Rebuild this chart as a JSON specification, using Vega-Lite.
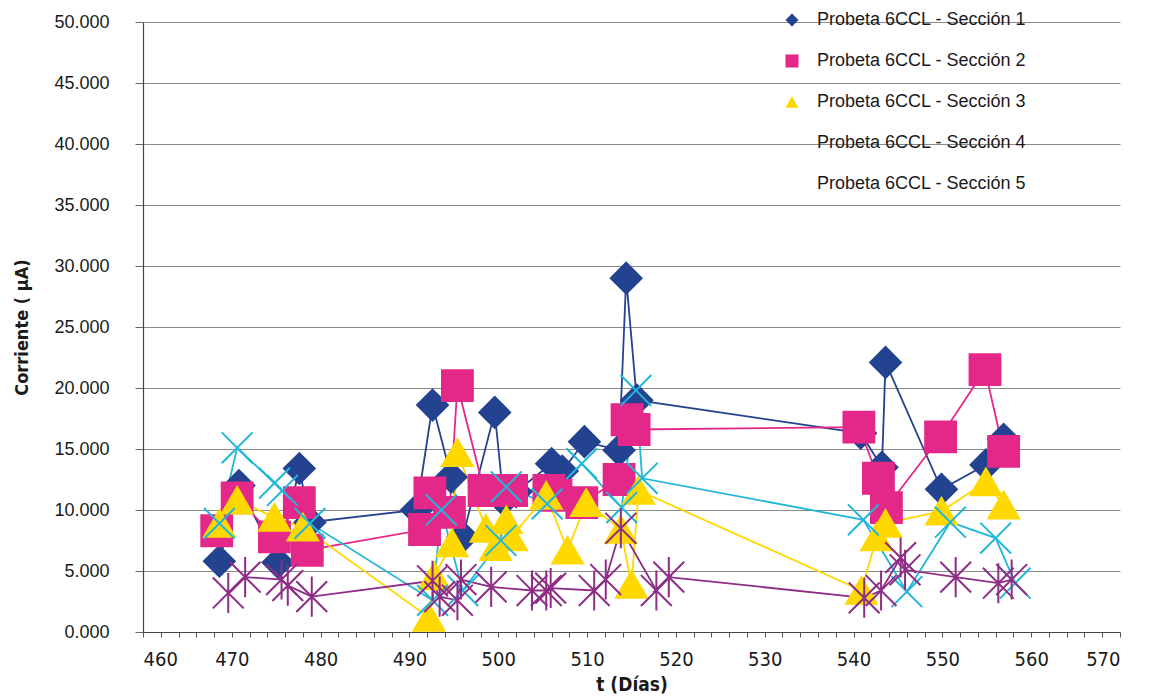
{
  "$schema": "https://vega.github.io/schema/vega-lite/v6.json",
  "width": 977,
  "height": 610,
  "autosize": "none",
  "padding": {"left": 143, "top": 22, "right": 36, "bottom": 64},
  "background": "white",
  "config": {"view": {"stroke": null}, "font": "Liberation Sans"},
  "datasets": {
    "d": [
      {"s": "Probeta 6CCL - Sección 1", "t": 468.6, "c": 5.8},
      {"s": "Probeta 6CCL - Sección 1", "t": 470.8, "c": 12.0},
      {"s": "Probeta 6CCL - Sección 1", "t": 475.2, "c": 5.7},
      {"s": "Probeta 6CCL - Sección 1", "t": 477.6, "c": 13.4},
      {"s": "Probeta 6CCL - Sección 1", "t": 478.8, "c": 9.0},
      {"s": "Probeta 6CCL - Sección 1", "t": 490.8, "c": 10.0},
      {"s": "Probeta 6CCL - Sección 1", "t": 492.6, "c": 18.6},
      {"s": "Probeta 6CCL - Sección 1", "t": 494.7, "c": 12.7},
      {"s": "Probeta 6CCL - Sección 1", "t": 496.0, "c": 7.8},
      {"s": "Probeta 6CCL - Sección 1", "t": 499.6, "c": 18.0},
      {"s": "Probeta 6CCL - Sección 1", "t": 500.6, "c": 10.8},
      {"s": "Probeta 6CCL - Sección 1", "t": 502.0, "c": 11.5},
      {"s": "Probeta 6CCL - Sección 1", "t": 506.0, "c": 13.8},
      {"s": "Probeta 6CCL - Sección 1", "t": 507.2, "c": 13.2},
      {"s": "Probeta 6CCL - Sección 1", "t": 509.7, "c": 15.6},
      {"s": "Probeta 6CCL - Sección 1", "t": 513.6, "c": 14.9},
      {"s": "Probeta 6CCL - Sección 1", "t": 514.4, "c": 29.0},
      {"s": "Probeta 6CCL - Sección 1", "t": 515.6, "c": 19.0},
      {"s": "Probeta 6CCL - Sección 1", "t": 540.8, "c": 16.3},
      {"s": "Probeta 6CCL - Sección 1", "t": 543.2, "c": 13.5},
      {"s": "Probeta 6CCL - Sección 1", "t": 543.6, "c": 22.1},
      {"s": "Probeta 6CCL - Sección 1", "t": 549.9, "c": 11.7},
      {"s": "Probeta 6CCL - Sección 1", "t": 554.9, "c": 13.7},
      {"s": "Probeta 6CCL - Sección 1", "t": 556.9, "c": 15.8},

      {"s": "Probeta 6CCL - Sección 2", "t": 468.3, "c": 8.3},
      {"s": "Probeta 6CCL - Sección 2", "t": 470.6, "c": 11.0},
      {"s": "Probeta 6CCL - Sección 2", "t": 474.8, "c": 7.8},
      {"s": "Probeta 6CCL - Sección 2", "t": 477.6, "c": 10.6},
      {"s": "Probeta 6CCL - Sección 2", "t": 478.5, "c": 6.7},
      {"s": "Probeta 6CCL - Sección 2", "t": 491.7, "c": 8.4},
      {"s": "Probeta 6CCL - Sección 2", "t": 492.3, "c": 11.4},
      {"s": "Probeta 6CCL - Sección 2", "t": 494.5, "c": 9.8},
      {"s": "Probeta 6CCL - Sección 2", "t": 495.4, "c": 20.2},
      {"s": "Probeta 6CCL - Sección 2", "t": 498.4, "c": 11.6},
      {"s": "Probeta 6CCL - Sección 2", "t": 501.5, "c": 11.6},
      {"s": "Probeta 6CCL - Sección 2", "t": 505.7, "c": 11.6},
      {"s": "Probeta 6CCL - Sección 2", "t": 506.5, "c": 11.2},
      {"s": "Probeta 6CCL - Sección 2", "t": 509.4, "c": 10.6},
      {"s": "Probeta 6CCL - Sección 2", "t": 513.6, "c": 12.5},
      {"s": "Probeta 6CCL - Sección 2", "t": 514.5, "c": 17.4},
      {"s": "Probeta 6CCL - Sección 2", "t": 515.3, "c": 16.6},
      {"s": "Probeta 6CCL - Sección 2", "t": 540.6, "c": 16.8},
      {"s": "Probeta 6CCL - Sección 2", "t": 542.8, "c": 12.6},
      {"s": "Probeta 6CCL - Sección 2", "t": 543.7, "c": 10.2},
      {"s": "Probeta 6CCL - Sección 2", "t": 549.8, "c": 16.0},
      {"s": "Probeta 6CCL - Sección 2", "t": 554.8, "c": 21.5},
      {"s": "Probeta 6CCL - Sección 2", "t": 556.9, "c": 14.8},

      {"s": "Probeta 6CCL - Sección 3", "t": 468.6, "c": 8.9},
      {"s": "Probeta 6CCL - Sección 3", "t": 470.6, "c": 10.8},
      {"s": "Probeta 6CCL - Sección 3", "t": 474.8, "c": 9.4},
      {"s": "Probeta 6CCL - Sección 3", "t": 478.0, "c": 8.6},
      {"s": "Probeta 6CCL - Sección 3", "t": 492.2, "c": 1.2},
      {"s": "Probeta 6CCL - Sección 3", "t": 492.8, "c": 4.6},
      {"s": "Probeta 6CCL - Sección 3", "t": 494.8, "c": 7.3},
      {"s": "Probeta 6CCL - Sección 3", "t": 495.4, "c": 14.7},
      {"s": "Probeta 6CCL - Sección 3", "t": 498.6, "c": 8.5},
      {"s": "Probeta 6CCL - Sección 3", "t": 499.7, "c": 7.0},
      {"s": "Probeta 6CCL - Sección 3", "t": 500.9, "c": 9.2},
      {"s": "Probeta 6CCL - Sección 3", "t": 501.5, "c": 7.8},
      {"s": "Probeta 6CCL - Sección 3", "t": 505.4, "c": 11.2},
      {"s": "Probeta 6CCL - Sección 3", "t": 507.8, "c": 6.7},
      {"s": "Probeta 6CCL - Sección 3", "t": 509.9, "c": 10.6},
      {"s": "Probeta 6CCL - Sección 3", "t": 513.8, "c": 8.4},
      {"s": "Probeta 6CCL - Sección 3", "t": 515.0, "c": 3.9},
      {"s": "Probeta 6CCL - Sección 3", "t": 515.8, "c": 11.6},
      {"s": "Probeta 6CCL - Sección 3", "t": 540.9, "c": 3.4},
      {"s": "Probeta 6CCL - Sección 3", "t": 542.6, "c": 7.8},
      {"s": "Probeta 6CCL - Sección 3", "t": 543.6, "c": 8.9},
      {"s": "Probeta 6CCL - Sección 3", "t": 549.9, "c": 9.9},
      {"s": "Probeta 6CCL - Sección 3", "t": 554.9, "c": 12.3},
      {"s": "Probeta 6CCL - Sección 3", "t": 556.9, "c": 10.4},

      {"s": "Probeta 6CCL - Sección 4", "t": 468.6, "c": 8.9},
      {"s": "Probeta 6CCL - Sección 4", "t": 470.6, "c": 15.1},
      {"s": "Probeta 6CCL - Sección 4", "t": 474.8, "c": 12.2},
      {"s": "Probeta 6CCL - Sección 4", "t": 475.7, "c": 11.6},
      {"s": "Probeta 6CCL - Sección 4", "t": 478.8, "c": 8.9},
      {"s": "Probeta 6CCL - Sección 4", "t": 492.6, "c": 2.6},
      {"s": "Probeta 6CCL - Sección 4", "t": 493.6, "c": 10.0},
      {"s": "Probeta 6CCL - Sección 4", "t": 496.0, "c": 3.4},
      {"s": "Probeta 6CCL - Sección 4", "t": 500.3, "c": 7.5},
      {"s": "Probeta 6CCL - Sección 4", "t": 500.9, "c": 11.9},
      {"s": "Probeta 6CCL - Sección 4", "t": 505.5, "c": 10.5},
      {"s": "Probeta 6CCL - Sección 4", "t": 509.4, "c": 13.8},
      {"s": "Probeta 6CCL - Sección 4", "t": 513.9, "c": 10.2},
      {"s": "Probeta 6CCL - Sección 4", "t": 515.5, "c": 19.8},
      {"s": "Probeta 6CCL - Sección 4", "t": 516.2, "c": 12.6},
      {"s": "Probeta 6CCL - Sección 4", "t": 541.1, "c": 9.2},
      {"s": "Probeta 6CCL - Sección 4", "t": 546.0, "c": 3.3},
      {"s": "Probeta 6CCL - Sección 4", "t": 550.9, "c": 9.0},
      {"s": "Probeta 6CCL - Sección 4", "t": 556.0, "c": 7.7},
      {"s": "Probeta 6CCL - Sección 4", "t": 558.2, "c": 4.0},

      {"s": "Probeta 6CCL - Sección 5", "t": 469.6, "c": 3.2},
      {"s": "Probeta 6CCL - Sección 5", "t": 471.5, "c": 4.5},
      {"s": "Probeta 6CCL - Sección 5", "t": 475.6, "c": 4.3},
      {"s": "Probeta 6CCL - Sección 5", "t": 476.3, "c": 3.8},
      {"s": "Probeta 6CCL - Sección 5", "t": 479.0, "c": 2.9},
      {"s": "Probeta 6CCL - Sección 5", "t": 492.6, "c": 4.2},
      {"s": "Probeta 6CCL - Sección 5", "t": 493.4, "c": 2.9},
      {"s": "Probeta 6CCL - Sección 5", "t": 495.4, "c": 2.6},
      {"s": "Probeta 6CCL - Sección 5", "t": 495.8, "c": 4.3},
      {"s": "Probeta 6CCL - Sección 5", "t": 499.2, "c": 3.7},
      {"s": "Probeta 6CCL - Sección 5", "t": 503.8, "c": 3.4},
      {"s": "Probeta 6CCL - Sección 5", "t": 505.4, "c": 3.4},
      {"s": "Probeta 6CCL - Sección 5", "t": 505.9, "c": 3.6},
      {"s": "Probeta 6CCL - Sección 5", "t": 510.8, "c": 3.4},
      {"s": "Probeta 6CCL - Sección 5", "t": 512.1, "c": 4.3},
      {"s": "Probeta 6CCL - Sección 5", "t": 513.8, "c": 8.5},
      {"s": "Probeta 6CCL - Sección 5", "t": 517.8, "c": 3.4},
      {"s": "Probeta 6CCL - Sección 5", "t": 519.2, "c": 4.5},
      {"s": "Probeta 6CCL - Sección 5", "t": 541.2, "c": 2.8},
      {"s": "Probeta 6CCL - Sección 5", "t": 543.1, "c": 3.4},
      {"s": "Probeta 6CCL - Sección 5", "t": 545.3, "c": 6.1},
      {"s": "Probeta 6CCL - Sección 5", "t": 545.8, "c": 5.1},
      {"s": "Probeta 6CCL - Sección 5", "t": 551.5, "c": 4.5},
      {"s": "Probeta 6CCL - Sección 5", "t": 556.3, "c": 4.0},
      {"s": "Probeta 6CCL - Sección 5", "t": 557.8, "c": 4.3}
    ]
  },
  "data": {"name": "d"},
  "encoding": {
    "x": {
      "field": "t", "type": "quantitative",
      "scale": {"domain": [460, 570], "nice": false, "zero": false},
      "axis": {
        "title": "t (Días)",
        "titleFont": "Liberation Sans Narrow, DejaVu Sans Condensed, Liberation Sans",
        "titleFontSize": 19, "titleFontWeight": "bold", "titleColor": "#1a1a1a", "titlePadding": 6,
        "values": [460,462,464,466,468,470,472,474,476,478,480,482,484,486,488,490,492,494,496,498,500,502,504,506,508,510,512,514,516,518,520,522,524,526,528,530,532,534,536,538,540,542,544,546,548,550,552,554,556,558,560,562,564,566,568,570],
        "labelExpr": "datum.value % 10 == 0 ? datum.value : ''",
        "labelOverlap": false,
        "labelFont": "Liberation Sans Narrow, DejaVu Sans Condensed, Liberation Sans",
        "labelFontSize": 20, "labelColor": "#1a1a1a", "labelPadding": 12,
        "tickSize": 5, "tickColor": "#555", "domainColor": "#444", "domainWidth": 1.2,
        "grid": false
      }
    },
    "y": {
      "field": "c", "type": "quantitative",
      "scale": {"domain": [0, 50], "nice": false},
      "axis": {
        "title": "Corriente ( μA)",
        "titleFont": "Liberation Sans Narrow, DejaVu Sans Condensed, Liberation Sans",
        "titleFontSize": 18, "titleFontWeight": "bold", "titleColor": "#1a1a1a", "titlePadding": 22,
        "values": [0,5,10,15,20,25,30,35,40,45,50],
        "format": ".3f",
        "labelFont": "Liberation Sans", "labelFontSize": 18, "labelColor": "#1a1a1a", "labelPadding": 26,
        "tickSize": 8, "tickColor": "#666", "domainColor": "#444", "domainWidth": 1.2,
        "grid": true, "gridColor": "#8a8a8a", "gridWidth": 1
      }
    }
  },
  "layer": [
    {
      "mark": {"type": "line", "strokeWidth": 1.8, "stroke": {"expr": "scale('color', datum.s)"}},
      "encoding": {
        "detail": {"field": "s", "type": "nominal"}
      }
    },
    {
      "mark": {"type": "point", "filled": true, "opacity": 1, "strokeWidth": 2, "stroke": {"expr": "scale('color', datum.s)"}},
      "encoding": {
        "color": {
          "field": "s", "type": "nominal",
          "scale": {"domain": ["Probeta 6CCL - Sección 1","Probeta 6CCL - Sección 2","Probeta 6CCL - Sección 3","Probeta 6CCL - Sección 4","Probeta 6CCL - Sección 5"],
                    "range": ["#23428f", "#e3288a", "#ffd800", "#22b6d8", "#8e2d86"]},
          "legend": {
            "orient": "none", "legendX": 640, "legendY": -11, "title": null, "padding": 0,
            "labelFont": "Liberation Sans", "labelFontSize": 18, "labelColor": "#1a1a1a", "labelLimit": 400,
            "symbolSize": 170, "symbolStrokeWidth": 1.8, "rowPadding": 23, "labelOffset": 16, "symbolOpacity": 1,
            "encode": {
              "symbols": {
                "stroke": {"value": {"expr": "scale('color', datum.value)"}}
              }
            }
          }
        },
        "shape": {
          "field": "s", "type": "nominal",
          "scale": {"domain": ["Probeta 6CCL - Sección 1","Probeta 6CCL - Sección 2","Probeta 6CCL - Sección 3","Probeta 6CCL - Sección 4","Probeta 6CCL - Sección 5"],
                    "range": ["diamond", "square", "triangle-up", "M-1,-1L1,1M-1,1L1,-1", "M-1,-1L1,1M-1,1L1,-1M0,-1.3L0,1.3"]}
        },
        "size": {
          "field": "s", "type": "nominal",
          "scale": {"domain": ["Probeta 6CCL - Sección 5","Probeta 6CCL - Sección 4","Probeta 6CCL - Sección 3","Probeta 6CCL - Sección 2","Probeta 6CCL - Sección 1"],
                    "range": [950, 950, 680, 720, 800]},
          "legend": null
        }
      }
    }
  ]
}
